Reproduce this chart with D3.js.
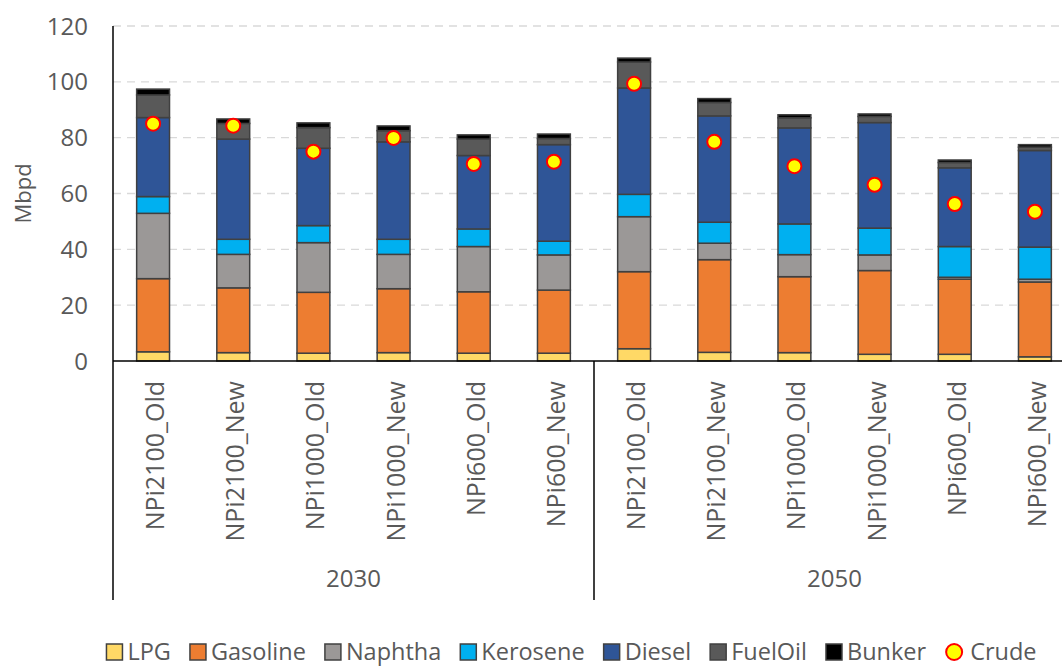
<!DOCTYPE html>
<html>
<head>
<meta charset="utf-8">
<script src="https://cdn.jsdelivr.net/npm/d3@7"></script>
<style>
  html, body { margin: 0; padding: 0; background: #fff; }
  svg { display: block; font-family: "Open Sans", sans-serif; }
</style>
</head>
<body>
<svg id="chart" width="1062" height="666"></svg>
<script>
// Oil product demand by scenario (million barrels per day)
const years = ["2030", "2050"];
const scenarios = ["NPi2100_Old", "NPi2100_New", "NPi1000_Old", "NPi1000_New", "NPi600_Old", "NPi600_New"];
const fuels = ["LPG", "Gasoline", "Naphtha", "Kerosene", "Diesel", "FuelOil", "Bunker"];

// one value per bar: 2030 scenarios first, then 2050
const lpg      = [3.3, 3.0, 2.8, 3.0, 2.8, 2.8, 4.4, 3.1, 3.0, 2.4, 2.4, 1.5];
const gasoline = [26.2, 23.2, 21.8, 22.9, 22.0, 22.6, 27.6, 33.2, 27.2, 30.0, 26.9, 26.8];
const naphtha  = [23.4, 12.0, 17.8, 12.3, 16.2, 12.6, 19.7, 5.9, 7.9, 5.6, 0.7, 1.0];
const kerosene = [6.0, 5.4, 6.1, 5.4, 6.3, 4.9, 8.0, 7.5, 11.0, 9.6, 11.0, 11.5];
const diesel   = [28.3, 35.9, 27.7, 34.9, 26.3, 34.6, 38.1, 38.1, 34.4, 37.8, 28.2, 34.6];
const fuelOil  = [8.1, 5.6, 7.4, 4.0, 5.9, 2.2, 9.3, 4.8, 3.6, 2.2, 1.9, 1.2];
const bunker   = [2.1, 1.6, 1.7, 1.7, 1.5, 1.6, 1.4, 1.4, 1.1, 0.9, 0.9, 0.9];
const crude    = [85.0, 84.3, 75.0, 79.9, 70.6, 71.4, 99.3, 78.5, 69.8, 63.1, 56.2, 53.5];

const yTicks = [0, 20, 40, 60, 80, 100, 120];

const colors = {
  LPG: "#FFD966", Gasoline: "#ED7D31", Naphtha: "#9B9897", Kerosene: "#00B0F0",
  Diesel: "#2F5597", FuelOil: "#595959", Bunker: "#000000"
};

// build row objects for the stack layout
const seriesByFuel = { LPG: lpg, Gasoline: gasoline, Naphtha: naphtha, Kerosene: kerosene,
  Diesel: diesel, FuelOil: fuelOil, Bunker: bunker };
const rows = [];
years.forEach((yr, gi) => {
  scenarios.forEach((sc, si) => {
    const i = gi * scenarios.length + si;
    const r = { key: i, year: yr, scenario: sc, crude: crude[i] };
    fuels.forEach(f => { r[f] = seriesByFuel[f][i]; });
    rows.push(r);
  });
});

const svg = d3.select("#chart");
const plotLeft = 113, plotRight = 1075, plotTop = 26, plotBottom = 361;

const x = d3.scaleBand()
  .domain(rows.map(d => d.key))
  .range([plotLeft, plotRight])
  .paddingInner(0.59)
  .paddingOuter(0.295);

const y = d3.scaleLinear().domain([0, 120]).range([plotBottom, plotTop]);

// gridlines
svg.append("g")
  .selectAll("line")
  .data(yTicks.filter(t => t > 0))
  .join("line")
  .attr("x1", plotLeft).attr("x2", 1062)
  .attr("y1", d => y(d)).attr("y2", d => y(d))
  .attr("stroke", "#D9D9D9")
  .attr("stroke-width", 1.3)
  .attr("stroke-dasharray", "8,6");

// y tick labels
svg.append("g")
  .selectAll("text")
  .data(yTicks)
  .join("text")
  .attr("x", 88)
  .attr("y", d => y(d))
  .attr("dy", "0.36em")
  .attr("text-anchor", "end")
  .attr("font-size", 24)
  .attr("fill", "#595959")
  .text(d => d);

// axis title
svg.append("text")
  .attr("transform", `translate(31,${(plotTop + plotBottom) / 2}) rotate(-90)`)
  .attr("text-anchor", "middle")
  .attr("font-size", 22)
  .attr("fill", "#595959")
  .text("Mbpd");

// stacked bars
const stack = d3.stack().keys(fuels);
const layers = stack(rows);

svg.append("g")
  .selectAll("g")
  .data(layers)
  .join("g")
  .attr("fill", d => colors[d.key])
  .selectAll("rect")
  .data(d => d)
  .join("rect")
  .attr("x", d => x(d.data.key))
  .attr("width", x.bandwidth())
  .attr("y", d => y(d[1]))
  .attr("height", d => y(d[0]) - y(d[1]))
  .attr("stroke", "#404040")
  .attr("stroke-width", 1.5);

// crude markers
svg.append("g")
  .selectAll("circle")
  .data(rows)
  .join("circle")
  .attr("cx", d => x(d.key) + x.bandwidth() / 2)
  .attr("cy", d => y(d.crude))
  .attr("r", 7)
  .attr("fill", "#FFFF00")
  .attr("stroke", "#FF0000")
  .attr("stroke-width", 2);

// axis lines
const axisColor = "#000";
const step = x.step();
svg.append("line")
  .attr("x1", plotLeft).attr("x2", 1062).attr("y1", plotBottom).attr("y2", plotBottom)
  .attr("stroke", axisColor).attr("stroke-width", 1.5);
svg.append("line")
  .attr("x1", plotLeft).attr("x2", plotLeft).attr("y1", plotTop).attr("y2", 600)
  .attr("stroke", axisColor).attr("stroke-width", 1.5);
// divider between year groups
years.forEach((yr, gi) => {
  if (gi === 0) return;
  const xx = plotLeft + gi * scenarios.length * step;
  svg.append("line")
    .attr("x1", xx).attr("x2", xx).attr("y1", plotBottom).attr("y2", 600)
    .attr("stroke", axisColor).attr("stroke-width", 1.5);
});

// scenario labels
svg.append("g")
  .selectAll("text")
  .data(rows)
  .join("text")
  .attr("transform", d => `translate(${x(d.key) + x.bandwidth() / 2 + 2},381) rotate(-90)`)
  .attr("dy", "0.36em")
  .attr("text-anchor", "end")
  .attr("font-size", 25)
  .attr("fill", "#595959")
  .text(d => d.scenario);

// year labels
svg.append("g")
  .selectAll("text")
  .data(years)
  .join("text")
  .attr("x", (d, gi) => plotLeft + (gi + 0.5) * scenarios.length * step)
  .attr("y", 587)
  .attr("text-anchor", "middle")
  .attr("font-size", 24)
  .attr("fill", "#595959")
  .text(d => d);

// legend
const legendItems = fuels.map(f => ({ name: f, type: "rect" })).concat([{ name: "Crude", type: "circle" }]);
const legend = svg.append("g");
let cursor = 0;
legendItems.forEach(item => {
  const g = legend.append("g").attr("transform", `translate(${cursor},0)`);
  if (item.type === "rect") {
    g.append("rect")
      .attr("x", 1).attr("y", -8).attr("width", 16).attr("height", 16)
      .attr("fill", colors[item.name])
      .attr("stroke", "#404040").attr("stroke-width", 1.5);
  } else {
    g.append("circle")
      .attr("cx", 10).attr("cy", 0).attr("r", 8)
      .attr("fill", "#FFFF00")
      .attr("stroke", "#FF0000").attr("stroke-width", 2);
  }
  const tx = item.type === "rect" ? 22 : 26;
  const t = g.append("text")
    .attr("x", tx)
    .attr("y", 0)
    .attr("dy", "0.36em")
    .attr("font-size", 23.5)
    .attr("fill", "#595959")
    .text(item.name);
  cursor += tx + t.node().getComputedTextLength() + 18;
});
const total = cursor - 18;
legend.attr("transform", `translate(${571 - total / 2},652)`);
</script>
</body>
</html>
